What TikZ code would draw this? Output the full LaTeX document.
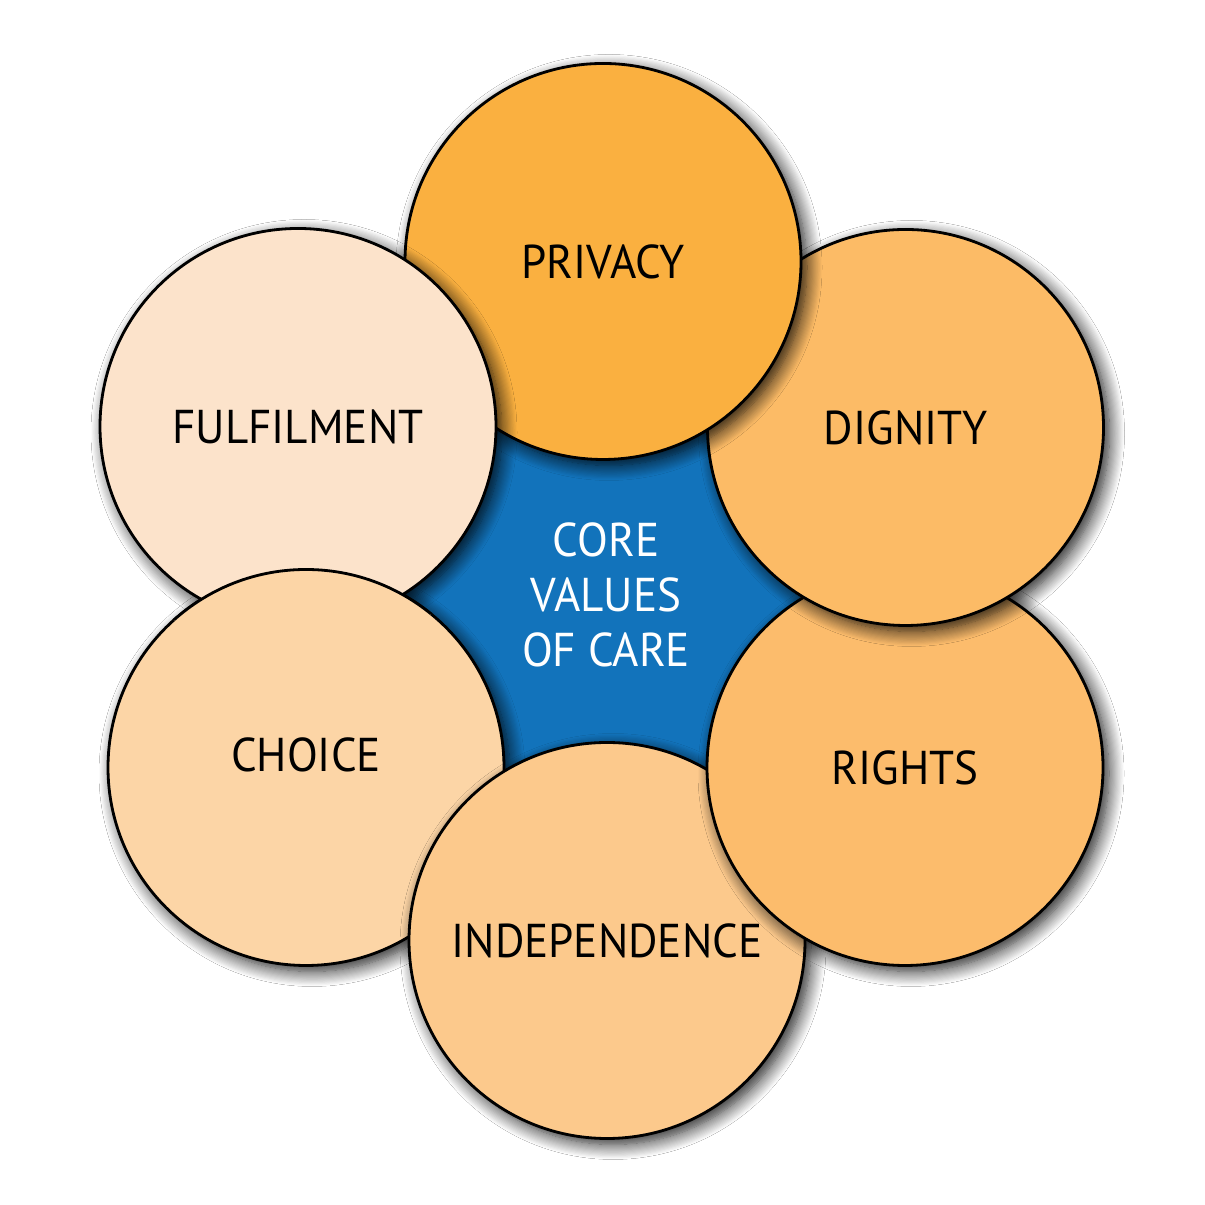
\documentclass[tikz,border=0pt]{standalone}
\usepackage{fontspec}
\setmainfont{PT Sans}[FakeStretch=0.95]
\usetikzlibrary{shadows.blur}
\definecolor{coreblue}{RGB}{18,115,187}
\definecolor{cprivacy}{RGB}{250,176,64}
\definecolor{cdignity}{RGB}{252,187,102}
\definecolor{crights}{RGB}{252,188,108}
\definecolor{cindep}{RGB}{252,201,140}
\definecolor{cchoice}{RGB}{252,213,166}
\definecolor{cfulfil}{RGB}{252,227,203}
\tikzset{
  valshadow/.style={blur shadow={shadow xshift=0.06cm, shadow yshift=-0.06cm, shadow blur radius=0.15cm, shadow blur steps=14, shadow opacity=90}},
  valcircle/.style={circle, draw=black, line width=0.8pt, minimum size=3.96cm, inner sep=0pt, outer sep=0pt, valshadow, font=\fontsize{13.5}{15}\selectfont, text=black},
}
\begin{document}
\begin{tikzpicture}
\useasboundingbox (0,0) rectangle (12.05,12.05);
\fill[white] (0,0) rectangle (12.05,12.05);
\coordinate (pP) at (6.03,9.435);
\coordinate (pD) at (9.055,7.775);
\coordinate (pR) at (9.05,4.375);
\coordinate (pI) at (6.07,2.645);
\coordinate (pC) at (3.06,4.375);
\coordinate (pF) at (2.98,7.785);
\fill[coreblue] (pP) -- (pD) -- (pR) -- (pI) -- (pC) -- (pF) -- cycle;
\node[align=center, text=white, font=\fontsize{13.5}{15.6}\selectfont] (core) at (6.06,6.10) {CORE\\VALUES\\OF CARE};
\node[valcircle, fill=cchoice] (C) at (pC) {\raisebox{0.25cm}{CHOICE}};
\node[valcircle, fill=cindep] (I) at (pI) {INDEPENDENCE};
\node[valcircle, fill=crights] (R) at (pR) {RIGHTS};
\node[valcircle, fill=cdignity] (D) at (pD) {DIGNITY};
\node[valcircle, fill=cprivacy] (P) at (pP) {PRIVACY};
\node[valcircle, fill=cfulfil] (F) at (pF) {FULFILMENT};
\begin{scope}
  \clip (pF) circle (2.3);
  \path[draw=black, line width=0.8pt, fill=cchoice] (pC) circle (1.98);
\end{scope}
\end{tikzpicture}
\end{document}
